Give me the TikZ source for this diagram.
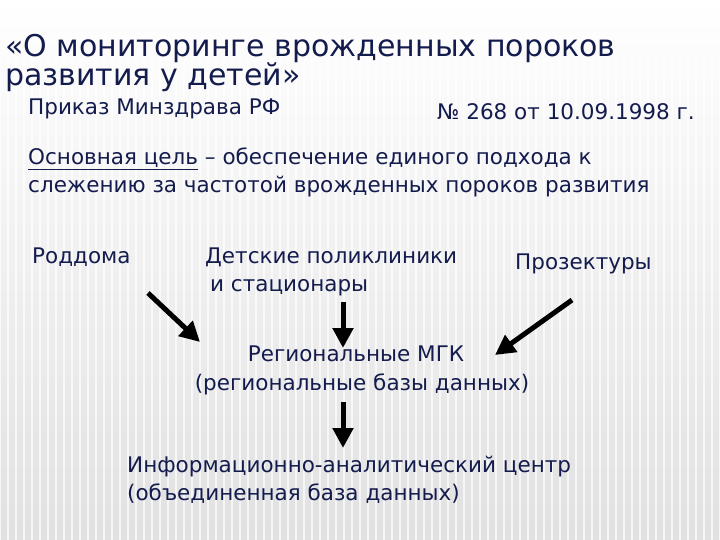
\documentclass[tikz,border=0pt]{standalone}
\usepackage{fontspec}
\setmainfont{DejaVu Sans}
\usetikzlibrary{arrows.meta}
\definecolor{navy}{HTML}{141C4E}
\begin{document}
\begin{tikzpicture}[x=1pt,y=-1pt,
  txt/.style={anchor=base west,inner sep=0pt,text=navy,font=\fontsize{21.5}{29}\selectfont},
  ttl/.style={anchor=base west,inner sep=0pt,text=navy,font=\fontsize{30}{32}\selectfont},
  arr/.style={-{Triangle[length=20pt,width=20pt]},line width=5pt,black}]
\useasboundingbox (0,0) rectangle (720,540);
\shade[top color=white,bottom color=black!12] (0,0) rectangle (720,540);
\foreach \i in {0,8,...,720}{\draw[white,line width=2.5pt,opacity=0.7] (\i,60) -- (\i,540);}
\node[ttl] (t1) at (5,57) {«О мониторинге врожденных пороков};
\node[ttl] (t2) at (5,86) {развития у детей»};
\node[txt] (p1) at (28,115) {Приказ Минздрава РФ};
\node[txt] (p2) at (437,120) {№ 268 от 10.09.1998 г.};
\node[txt] (g1) at (28,165) {\underline{Основная цель} – обеспечение единого подхода к};
\node[txt] (g2) at (28,193) {слежению за частотой врожденных пороков развития};
\node[txt] (r) at (32,263) {Роддома};
\node[txt] (d) at (205,263) {Детские поликлиники};
\node[txt] (d2) at (210,291) {и стационары};
\node[txt] (z) at (515,269) {Прозектуры};
\node[txt,anchor=base] (m) at (356,361) {Региональные МГК};
\node[txt,anchor=base] (m2) at (362,390) {(региональные базы данных)};
\node[txt] (i) at (127,472) {Информационно-аналитический центр};
\node[txt] (i2) at (127,500) {(объединенная база данных)};
\coordinate (ra) at (148,293);
\coordinate (za) at (572,300);
\draw[arr] (ra) -- (200,342);
\draw[arr] (343,302) -- (343,348);
\draw[arr] (za) -- (495,355);
\draw[arr] (343,402) -- (343,448);
\end{tikzpicture}
\end{document}
